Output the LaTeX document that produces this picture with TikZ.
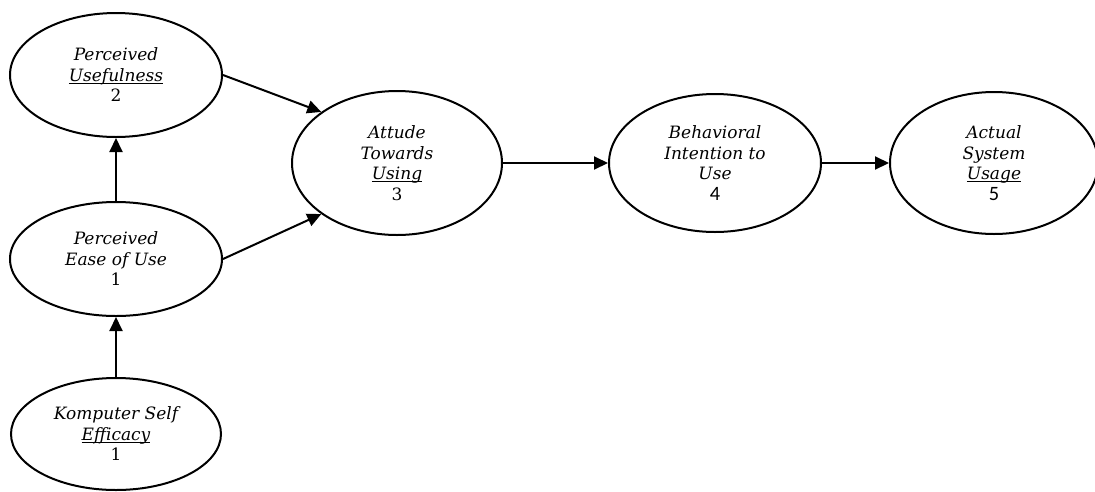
\documentclass[tikz,border=0pt]{standalone}
\usepackage{fontspec}
\setmainfont{DejaVu Serif}
\newfontfamily\numsans[Scale=1.2]{Carlito}
\usetikzlibrary{shapes.geometric,arrows.meta}

% underline just below the baseline
\newcommand{\undl}[1]{\setbox0\hbox{#1}\rlap{\rule[-2.5pt]{\wd0}{0.9pt}}\box0}

\tikzset{
	construct/.style={draw,ellipse,line width=2pt,inner sep=0pt,align=center,
		font=\fontsize{17}{20.5}\selectfont\itshape},
	path/.style={line width=2pt,-{Triangle[length=14pt,width=13pt]}}
}

\begin{document}
\begin{tikzpicture}[x=1pt,y=-1pt]
			\useasboundingbox (0,0) rectangle (1095,491);
			\node[construct,minimum width=212pt,minimum height=124pt] (pu) at (116,75) {Perceived\\\undl{Usefulness}\\\upshape 2};
			\node[construct,minimum width=212pt,minimum height=114pt] (peou) at (116,259) {Perceived\\Ease of Use\\\upshape 1};
			\node[construct,minimum width=210pt,minimum height=112pt] (kse) at (116,434) {Komputer Self\\\undl{Efficacy}\\\upshape 1};
			\node[construct,minimum width=210pt,minimum height=144pt] (atu) at (397,163) {Attude\\Towards\\\undl{Using}\\\upshape 3};
			\node[construct,minimum width=212pt,minimum height=138pt] (biu) at (715,163) {Behavioral\\Intention to\\Use\\\upshape\numsans 4};
			\node[construct,minimum width=208pt,minimum height=142pt] (asu) at (994,163) {Actual\\System\\\undl{Usage}\\\upshape\numsans 5};
			\draw[path] (peou.north) -- (pu.south);
			\draw[path] (kse.north) -- (peou.south);
			\draw[path] (pu.east) -- (atu.146);
			\draw[path] (peou.east) -- (atu.214);
			\draw[path] (atu.east) -- (biu.west);
			\draw[path] (biu.east) -- (asu.west);
		\end{tikzpicture}
\end{document}
